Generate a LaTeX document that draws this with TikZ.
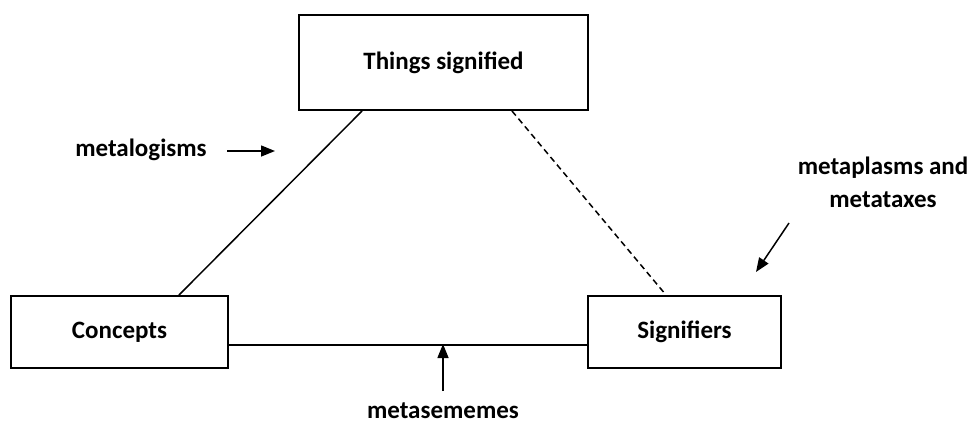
\documentclass[tikz,border=0pt]{standalone}
\usepackage{fontspec}
\setmainfont{Carlito}
\usetikzlibrary{arrows.meta}
\tikzset{
  box/.style={draw, line width=2pt, minimum height=72pt, inner sep=0pt},
  link/.style={line width=1.5pt},
  pointer/.style={line width=1.5pt, -{Triangle[length=14pt,width=11pt]}},
  tag/.style={inner sep=0pt, align=center}
}
\begin{document}
\begin{tikzpicture}[x=1pt, y=-1pt,
    every node/.style={font=\fontsize{25}{33}\selectfont\bfseries}]
  \useasboundingbox (0,0) rectangle (976,424);
  % The three corners of the triangle
  \node [box, minimum width=289pt, minimum height=95pt] (things) at (443.5,62.5) {Things signified};
  \node [box, minimum width=217pt] (concepts) at (119.5,332) {Concepts};
  \node [box, minimum width=193pt] (signifiers) at (684.5,332) {Signifiers};

  % Sides of the triangle
  \draw [link] ([xshift=64pt]things.south west) -- ([xshift=169pt]concepts.north west);
  \draw [link, dashed, dash pattern=on 6pt off 4pt] ([xshift=214pt]things.south west) -- ([xshift=79pt]signifiers.north west);
  \draw [link] ([yshift=-13pt]concepts.east) -- ([yshift=-13pt]signifiers.west);

  % Labels and the arrows pointing at the sides
  \node [tag] (logisms) at (141,150) {metalogisms};
  \coordinate (logtail) at (227,151);
  \coordinate (loghead) at (275,151);
  \draw [pointer] (logtail) -- (loghead);

  \node [tag] (plasms) at (883,182) {metaplasms and\\metataxes};
  \coordinate (plastail) at (789,223);
  \coordinate (plashead) at (756,272);
  \draw [pointer] (plastail) -- (plashead);

  \node [tag] (sememes) at (443,411) {metasememes};
  \coordinate (semtail) at (443,391);
  \coordinate (semhead) at (443,344);
  \draw [pointer] (semtail) -- (semhead);
\end{tikzpicture}
\end{document}
